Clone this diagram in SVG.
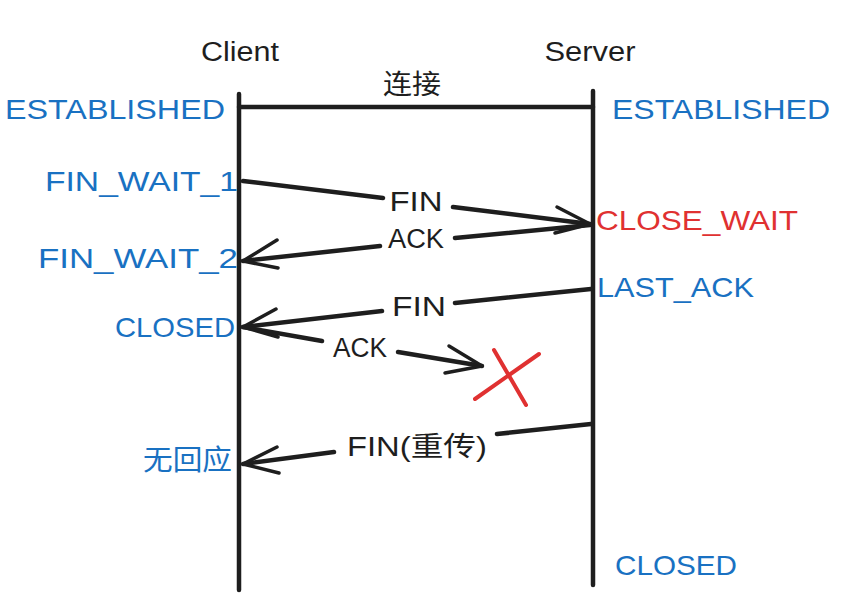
<svg xmlns="http://www.w3.org/2000/svg" width="845" height="600" viewBox="0 0 845 600">
<style>
text{font-family:"Liberation Sans","Noto Sans CJK SC",sans-serif;}
.blk{fill:#1e1e1e;font-size:27px;}
.blue{fill:#1971c2;font-size:28px;}
.red{fill:#e03131;font-size:28px;}
.life{stroke:#1e1e1e;stroke-width:4.5;fill:none;stroke-linecap:round;}
.msg{stroke:#1e1e1e;stroke-width:4.5;fill:none;stroke-linecap:round;}
.head{stroke:#1e1e1e;stroke-width:3.5;fill:none;stroke-linecap:round;stroke-linejoin:round;}
.x{stroke:#e03131;stroke-width:4;stroke-linecap:round;}
</style>
<rect width="845" height="600" fill="#ffffff"/>
<g id="client">
<text class="blk" x="240" y="61" text-anchor="middle" textLength="78" lengthAdjust="spacingAndGlyphs">Client</text>
<line class="life" x1="239" y1="94" x2="239" y2="590"/>
</g>
<g id="server">
<text class="blk" x="590" y="61" text-anchor="middle" textLength="91" lengthAdjust="spacingAndGlyphs">Server</text>
<line class="life" x1="593" y1="91" x2="593" y2="585"/>
</g>
<g id="states-client">
<text class="blue" x="5" y="119" textLength="220" lengthAdjust="spacingAndGlyphs">ESTABLISHED</text>
<text class="blue" x="45" y="191" textLength="193" lengthAdjust="spacingAndGlyphs">FIN_WAIT_1</text>
<text class="blue" x="38" y="268" textLength="200" lengthAdjust="spacingAndGlyphs">FIN_WAIT_2</text>
<text class="blue" x="115" y="337" textLength="120" lengthAdjust="spacingAndGlyphs">CLOSED</text>
<text class="blue" x="143" y="470" font-size="27" textLength="89" lengthAdjust="spacingAndGlyphs">无回应</text>
</g>
<g id="states-server">
<text class="blue" x="612" y="119" textLength="218" lengthAdjust="spacingAndGlyphs">ESTABLISHED</text>
<text class="red" x="596" y="230" textLength="202" lengthAdjust="spacingAndGlyphs">CLOSE_WAIT</text>
<text class="blue" x="597" y="297" textLength="157" lengthAdjust="spacingAndGlyphs">LAST_ACK</text>
<text class="blue" x="615" y="575" textLength="122" lengthAdjust="spacingAndGlyphs">CLOSED</text>
</g>
<g id="connectors">
<line class="msg" x1="239" y1="107" x2="593" y2="107"/>
<text class="blk" x="412" y="94" text-anchor="middle" textLength="58" lengthAdjust="spacingAndGlyphs">连接</text>
<!-- FIN 1 -->
<line class="msg" x1="243" y1="181" x2="383" y2="198"/>
<line class="msg" x1="453" y1="207" x2="590" y2="224"/>
<polyline class="head" points="557,207 590,224 555,233"/>
<text class="blk" x="416" y="211" text-anchor="middle" textLength="53" lengthAdjust="spacingAndGlyphs">FIN</text>
<!-- ACK 1 -->
<line class="msg" x1="590" y1="225" x2="455" y2="238"/>
<line class="msg" x1="380" y1="246" x2="243" y2="261"/>
<polyline class="head" points="277,240 243,261 278,268"/>
<text class="blk" x="416" y="248" text-anchor="middle" textLength="56" lengthAdjust="spacingAndGlyphs">ACK</text>
<!-- FIN 2 -->
<line class="msg" x1="591" y1="289" x2="455" y2="303"/>
<line class="msg" x1="382" y1="311" x2="243" y2="327"/>
<polyline class="head" points="276,309 243,327 278,337"/>
<text class="blk" x="419" y="316" text-anchor="middle" textLength="54" lengthAdjust="spacingAndGlyphs">FIN</text>
<!-- ACK 2 (lost) -->
<line class="msg" x1="243" y1="327" x2="322" y2="341"/>
<line class="msg" x1="398" y1="352" x2="482" y2="366"/>
<polyline class="head" points="449,346 482,366 445,373"/>
<text class="blk" x="360" y="357" text-anchor="middle" textLength="54" lengthAdjust="spacingAndGlyphs">ACK</text>
<line class="x" x1="475" y1="399" x2="539" y2="354"/>
<line class="x" x1="494" y1="350" x2="526" y2="405"/>
<!-- FIN retransmit -->
<line class="msg" x1="591" y1="424" x2="497" y2="434"/>
<line class="msg" x1="334" y1="452" x2="243" y2="464"/>
<polyline class="head" points="277,447 243,464 279,473"/>
<text class="blk" x="417" y="456" text-anchor="middle" textLength="140" lengthAdjust="spacingAndGlyphs">FIN(重传)</text>
</g>
</svg>
